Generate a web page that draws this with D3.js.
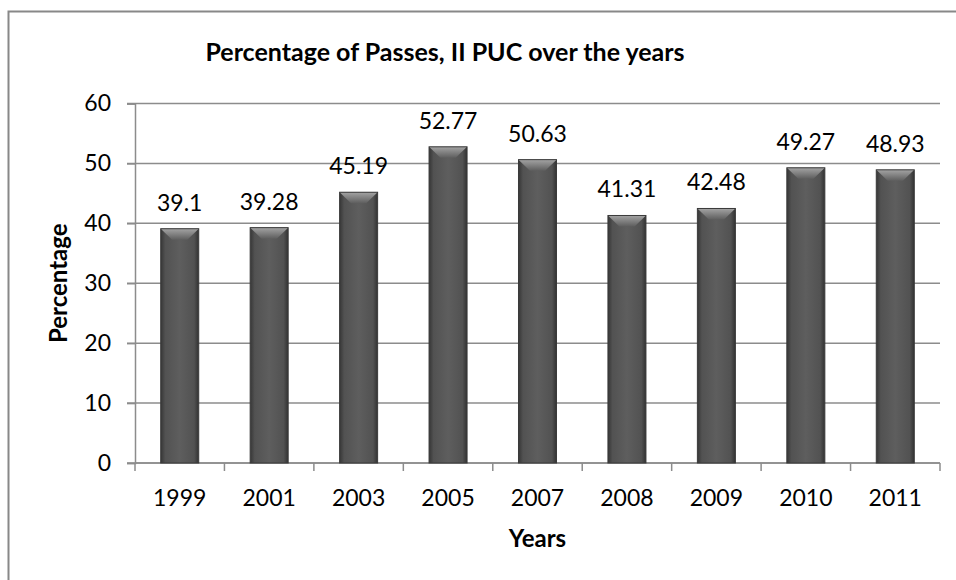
<!DOCTYPE html>
<html>
<head>
<meta charset="utf-8">
<script src="https://cdn.jsdelivr.net/npm/d3@7"></script>
<style>
  body { margin: 0; background: #fff; }
  text { font-family: Lato, "Open Sans", sans-serif; fill: #000; }
</style>
</head>
<body>
<div id="chart"></div>
<script>
var years = ["1999", "2001", "2003", "2005", "2007", "2008", "2009", "2010", "2011"];
var passPct = [39.1, 39.28, 45.19, 52.77, 50.63, 41.31, 42.48, 49.27, 48.93];
var yTicks = [0, 10, 20, 30, 40, 50, 60];

var width = 956, height = 580;
var margin = { top: 103.5, right: 16, bottom: 117, left: 135 };

var svg = d3.select("#chart")
    .append("svg")
    .attr("width", width)
    .attr("height", height);

var defs = svg.append("defs");

var bodyGrad = defs.append("linearGradient")
    .attr("id", "barBody")
    .attr("x1", "0").attr("x2", "1").attr("y1", "0").attr("y2", "0");
bodyGrad.append("stop").attr("offset", "0").attr("stop-color", "#363636");
bodyGrad.append("stop").attr("offset", "0.12").attr("stop-color", "#525252");
bodyGrad.append("stop").attr("offset", "0.5").attr("stop-color", "#5e5e5e");
bodyGrad.append("stop").attr("offset", "0.88").attr("stop-color", "#525252");
bodyGrad.append("stop").attr("offset", "1").attr("stop-color", "#323232");

var topGrad = defs.append("linearGradient")
    .attr("id", "barTop")
    .attr("x1", "0").attr("x2", "0").attr("y1", "0").attr("y2", "1");
topGrad.append("stop").attr("offset", "0").attr("stop-color", "#a4a4a4");
topGrad.append("stop").attr("offset", "1").attr("stop-color", "#5e5e5e");

// outer chart border
svg.append("rect")
    .attr("x", 8.5)
    .attr("y", 11.5)
    .attr("width", width)
    .attr("height", height)
    .attr("fill", "none")
    .attr("stroke", "#888")
    .attr("stroke-width", 2);

var x = d3.scaleBand()
    .domain(years)
    .range([margin.left, width - margin.right])
    .paddingInner(0.575)
    .paddingOuter(0.2875);

var y = d3.scaleLinear()
    .domain([0, 60])
    .range([height - margin.bottom, margin.top]);

// gridlines
svg.append("g")
    .selectAll("line")
    .data(yTicks)
    .join("line")
    .attr("x1", margin.left - 8)
    .attr("x2", width - margin.right)
    .attr("y1", d => y(d))
    .attr("y2", d => y(d))
    .attr("stroke", "#8c8c8c")
    .attr("stroke-width", 1.5);

// y axis
var yAxis = svg.append("g")
    .attr("transform", `translate(${margin.left},0)`)
    .call(d3.axisLeft(y).tickValues(yTicks).tickSize(8).tickPadding(16));
yAxis.select(".domain").attr("stroke", "#8c8c8c").attr("stroke-width", 1.5);
yAxis.selectAll(".tick line").attr("stroke", "#8c8c8c").attr("stroke-width", 1.5);
yAxis.selectAll("text")
    .attr("font-size", 23)
    .attr("font-family", "Lato, sans-serif")
    .attr("fill", "#000");

// x axis, ticks on band boundaries
var step = x.step();
var bounds = d3.range(years.length + 1).map(i => margin.left + i * step);
var xAxis = svg.append("g");
xAxis.append("line")
    .attr("x1", margin.left).attr("x2", width - margin.right)
    .attr("y1", y(0)).attr("y2", y(0))
    .attr("stroke", "#8c8c8c").attr("stroke-width", 1.5);
xAxis.selectAll(".xt")
    .data(bounds)
    .join("line")
    .attr("class", "xt")
    .attr("x1", d => d).attr("x2", d => d)
    .attr("y1", y(0)).attr("y2", y(0) + 8)
    .attr("stroke", "#8c8c8c").attr("stroke-width", 1.5);
xAxis.selectAll("text")
    .data(years)
    .join("text")
    .attr("x", d => x(d) + x.bandwidth() / 2)
    .attr("y", 506)
    .attr("text-anchor", "middle")
    .attr("font-size", 23)
    .text(d => d);

// bars
var bars = svg.append("g")
    .selectAll("g")
    .data(years.map((yr, i) => ({ year: yr, value: passPct[i] })))
    .join("g");

bars.append("rect")
    .attr("x", d => x(d.year))
    .attr("y", d => y(d.value))
    .attr("width", x.bandwidth())
    .attr("height", d => y(0) - y(d.value))
    .attr("fill", "url(#barBody)");

bars.append("polygon")
    .attr("points", d => {
        var x0 = x(d.year), x1 = x0 + x.bandwidth(), t = y(d.value);
        var inset = x.bandwidth() * 0.3;
        return [[x0, t], [x1, t], [x1 - inset, t + 11], [x0 + inset, t + 11]].join(" ");
    })
    .attr("fill", "url(#barTop)");

bars.append("rect")
    .attr("x", d => x(d.year))
    .attr("y", d => y(d.value))
    .attr("width", x.bandwidth())
    .attr("height", d => y(0) - y(d.value))
    .attr("fill", "none")
    .attr("stroke", "#3a3a3a")
    .attr("stroke-width", 1);

// value labels
bars.append("text")
    .attr("x", d => x(d.year) + x.bandwidth() / 2)
    .attr("y", d => y(d.value) - 18)
    .attr("text-anchor", "middle")
    .attr("font-size", 23)
    .text(d => d.value);

// titles
svg.append("text")
    .attr("x", 445)
    .attr("y", 61)
    .attr("text-anchor", "middle")
    .attr("font-size", 25)
    .attr("font-weight", "bold")
    .text("Percentage of Passes, II PUC over the years");

svg.append("text")
    .attr("x", (margin.left + width - margin.right) / 2)
    .attr("y", 547)
    .attr("text-anchor", "middle")
    .attr("font-size", 24)
    .attr("font-weight", "bold")
    .text("Years");

svg.append("text")
    .attr("transform", `translate(67,${(y(0) + y(60)) / 2}) rotate(-90)`)
    .attr("text-anchor", "middle")
    .attr("font-size", 24)
    .attr("font-weight", "bold")
    .text("Percentage");
</script>
</body>
</html>
